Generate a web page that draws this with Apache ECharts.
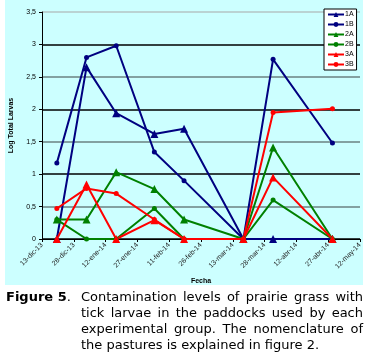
<!DOCTYPE html>
<html lang="en">

<head>
  <meta charset="UTF-8">
  <title>Figure 5</title>
  <style media="screen">
    body { margin: 0; background: #fff; }
    #bg { position: absolute; left: 5px; top: 0; width: 358px; height: 285px; background: #ccffff; }
    #main { position: absolute; left: 0; top: 0; width: 368px; height: 359px; }
    #caption { position: absolute; left: 0; top: 289px; width: 368px; font-family: "DejaVu Sans", sans-serif;
      font-size: 13px; line-height: 16px; color: #000; }
    #fig { position: absolute; left: 6px; top: 0; }
    #body { position: absolute; left: 81px; top: 0; width: 282px; }
    #body div { text-align: justify; text-align-last: justify; white-space: nowrap; }
    #body div.last { text-align-last: left; }
  </style>
</head>

<body>
  <div id="bg"></div>
  <div id="main"></div>
  <div id="caption">
    <div id="fig"><b>Figure 5</b>.</div>
    <div id="body">
      <div>Contamination levels of prairie grass with</div>
      <div>tick larvae in the paddocks used by each</div>
      <div>experimental group. The nomenclature of</div>
      <div class="last">the pastures is explained in figure 2.</div>
    </div>
  </div>
</body>
<script src="https://cdn.jsdelivr.net/npm/echarts@6/dist/echarts.min.js"></script>

<script>
  // sampling dates and values
  var startDate = '2013-12-13';
  var dates = ['2013-12-20', '2014-01-03', '2014-01-17', '2014-02-04', '2014-02-18', '2014-03-18', '2014-04-01', '2014-04-29'];
  var tickLabels = ['13-dic-13', '28-dic-13', '12-ene-14', '27-ene-14', '11-feb-14', '26-feb-14',
    '13-mar-14', '28-mar-14', '12-abr-14', '27-abr-14', '12-may-14'];

  var v1A = [0, 2.65, 1.94, 1.62, 1.70, 0, 0, 0];
  var v1B = [1.17, 2.80, 2.98, 1.34, 0.90, 0, 2.77, 1.48];
  var v2A = [0.30, 0.30, 1.03, 0.77, 0.30, 0, 1.41, 0];
  var v2B = [0.30, 0, 0, 0.47, 0, 0, 0.60, 0];
  var v3A = [0, 0.84, 0, 0.29, 0, 0, 0.95, 0];
  var v3B = [0.47, 0.78, 0.70, 0.30, 0, 0, 1.95, 2.01];

  var names = ['1A', '1B', '2A', '2B', '3A', '3B'];
  var values = [v1A, v1B, v2A, v2B, v3A, v3B];
  var colors = ['#000080', '#000080', '#008000', '#008000', '#ff0000', '#ff0000'];

  var t0 = Date.parse(startDate);
  var days = dates.map(function (d) {
    return Math.round((Date.parse(d) - t0) / 86400000);
  });

  var series = names.map(function (name, i) {
    var tri = i % 2 === 0;
    return {
      name: name,
      type: 'line',
      data: values[i].map(function (v, j) { return [days[j], v]; }),
      symbol: tri ? 'triangle' : 'circle',
      symbolSize: tri ? 8 : 5,
      showAllSymbol: true,
      lineStyle: { color: colors[i], width: 2 },
      itemStyle: { color: colors[i] },
      z: 3
    };
  });

  var myChart = echarts.init(document.getElementById('main'));

  myChart.setOption({
    backgroundColor: 'transparent',
    animation: false,
    textStyle: { fontFamily: 'Liberation Sans' },
    grid: { left: 40, right: 8, top: 12, bottom: 120 },
    legend: {
      orient: 'vertical',
      left: 324,
      top: 9,
      width: 35,
      padding: [2, 3, 2, 3],
      itemWidth: 16,
      itemHeight: 6,
      itemGap: 3,
      backgroundColor: '#fff',
      borderColor: '#000',
      borderWidth: 1,
      borderRadius: 0,
      textStyle: { fontSize: 7, color: '#000', padding: [0, 0, 0, -4] },
      data: names
    },
    xAxis: {
      type: 'value',
      min: 0,
      max: 150,
      interval: 15,
      name: 'Fecha',
      nameLocation: 'middle',
      nameGap: 37,
      nameTextStyle: { fontSize: 7, fontWeight: 'bold', color: '#000' },
      axisLine: { lineStyle: { color: '#000', width: 1 } },
      axisTick: { show: true, length: 3, lineStyle: { color: '#000' } },
      splitLine: { show: false },
      axisLabel: {
        rotate: 45,
        fontSize: 7,
        color: '#222',
        margin: 5,
        formatter: function (v) { return tickLabels[Math.round(v / 15)]; }
      }
    },
    yAxis: {
      type: 'value',
      min: 0,
      max: 3.5,
      interval: 0.5,
      name: 'Log Total Larvas',
      nameLocation: 'middle',
      nameGap: 27,
      nameTextStyle: { fontSize: 7, fontWeight: 'bold', color: '#000' },
      axisLine: { show: true, lineStyle: { color: '#000', width: 1 } },
      axisTick: { show: true, length: 3, lineStyle: { color: '#000' } },
      axisLabel: {
        fontSize: 7,
        color: '#000',
        margin: 6,
        formatter: function (v) { return String(v).replace('.', ','); }
      },
      splitLine: {
        show: true,
        lineStyle: {
          width: 1.5,
          color: ['#000', '#6b8282', '#000', '#6b8282', '#000', '#6b8282', '#000', '#b4c4c4']
        }
      }
    },
    series: series
  });
</script>

</html>
